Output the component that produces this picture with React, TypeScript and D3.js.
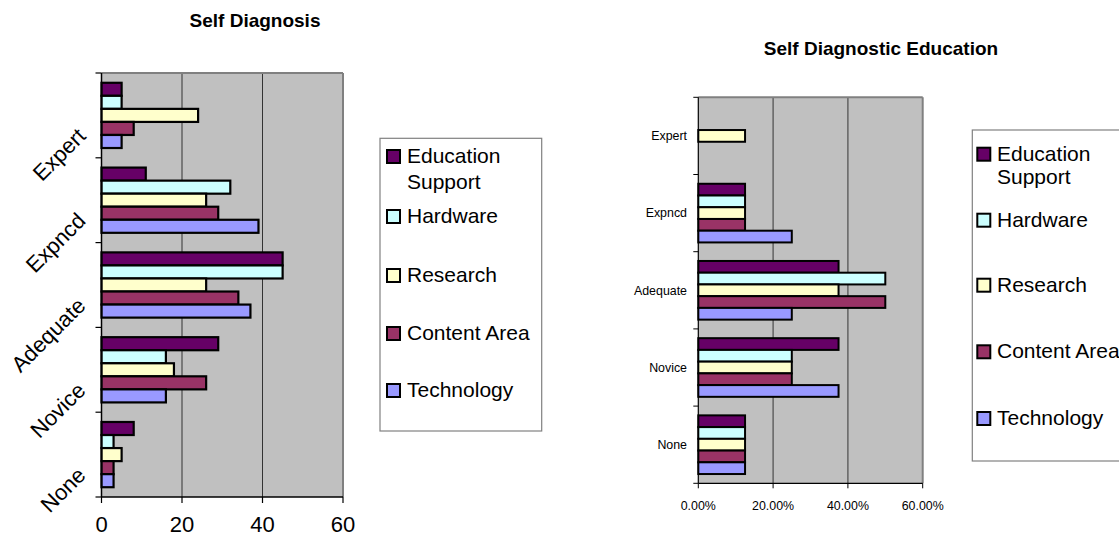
import React from "react";
import * as d3 from "d3";

const categories = ["Expert", "Expncd", "Adequate", "Novice", "None"];
const seriesNames = ["Education Support", "Hardware", "Research", "Content Area", "Technology"];
const seriesColors = ["#660066", "#CCFFFF", "#FFFFCC", "#993366", "#9999FF"];

// Left chart: Self Diagnosis (counts), ordered as categories
const diagEducationSupport = [5, 11, 45, 29, 8];
const diagHardware = [5, 32, 45, 16, 3];
const diagResearch = [24, 26, 26, 18, 5];
const diagContentArea = [8, 29, 34, 26, 3];
const diagTechnology = [5, 39, 37, 16, 3];
const diagTicks = [0, 20, 40, 60];

// Right chart: Self Diagnostic Education (shares)
const eduEducationSupport = [0, 0.125, 0.375, 0.375, 0.125];
const eduHardware = [0, 0.125, 0.5, 0.25, 0.125];
const eduResearch = [0.125, 0.125, 0.375, 0.25, 0.125];
const eduContentArea = [0, 0.125, 0.5, 0.25, 0.125];
const eduTechnology = [0, 0.25, 0.25, 0.375, 0.125];
const eduTicks = [0, 0.2, 0.4, 0.6];

const FONT = "'Liberation Sans', Arial, Helvetica, sans-serif";

const diagSeries = [diagEducationSupport, diagHardware, diagResearch, diagContentArea, diagTechnology];
const eduSeries = [eduEducationSupport, eduHardware, eduResearch, eduContentArea, eduTechnology];

function LeftChart() {
  const x0 = 101.5, x1 = 343, y0 = 73, y1 = 497;
  const x = d3.scaleLinear().domain([0, 60]).range([x0, x1]);
  const y = d3.scaleBand().domain(categories).range([y0, y1]).padding(0);
  const ys = d3.scaleBand().domain(seriesNames).range([0, y.bandwidth()]).paddingInner(0).paddingOuter(0.75);
  const bounds = categories.map((c) => y(c) as number).concat([y1]);
  return (
    <g>
      <text x={255} y={27} textAnchor="middle" fontFamily={FONT} fontWeight="bold" fontSize={19}>Self Diagnosis</text>
      <rect x={x0} y={y0} width={x1 - x0} height={y1 - y0} fill="#C0C0C0" stroke="none" />
      {diagTicks.slice(1, -1).map((t) => (
        <line key={t} x1={x(t)} x2={x(t)} y1={y0} y2={y1} stroke="#333" strokeWidth={1} />
      ))}
      <line x1={x0} x2={x1} y1={y0} y2={y0} stroke="#808080" strokeWidth={2} />
      <line x1={x1} x2={x1} y1={y0} y2={y1} stroke="#808080" strokeWidth={2} />
      {diagSeries.map((vals, si) =>
        vals.map((v, ci) =>
          v > 0 ? (
            <rect
              key={`${si}-${ci}`}
              x={x(0)}
              y={(y(categories[ci]) as number) + (ys(seriesNames[si]) as number)}
              width={x(v) - x(0)}
              height={ys.bandwidth()}
              fill={seriesColors[si]}
              stroke="#000"
              strokeWidth={2.2}
            />
          ) : null
        )
      )}
      <line x1={x0} x2={x0} y1={y0} y2={y1} stroke="#000" strokeWidth={1.5} />
      <line x1={x0} x2={x1} y1={y1} y2={y1} stroke="#000" strokeWidth={1.5} />
      {bounds.map((b, i) => (
        <line key={i} x1={x0 - 6} x2={x0} y1={b} y2={b} stroke="#000" strokeWidth={1.2} />
      ))}
      {diagTicks.map((t) => (
        <g key={t}>
          <line x1={x(t)} x2={x(t)} y1={y1} y2={y1 + 6} stroke="#000" strokeWidth={1.2} />
          <text x={x(t)} y={532} textAnchor="middle" fontFamily={FONT} fontSize={22}>{t}</text>
        </g>
      ))}
      {categories.map((c) => {
        const cy = (y(c) as number) + y.bandwidth() / 2 + 22;
        return (
          <text key={c} transform={`translate(87,${cy}) rotate(-45)`} textAnchor="end" fontFamily={FONT} fontSize={22}>{c}</text>
        );
      })}
    </g>
  );
}

function Legend({ x, y, w, h, sq, lineGap, baselines }: any) {
  return (
    <g>
      <rect x={x} y={y} width={w} height={h} fill="#fff" stroke="#808080" strokeWidth={1.2} />
      {seriesNames.map((s, i) => {
        const b = baselines[i];
        const lines = s === "Education Support" ? ["Education", "Support"] : [s];
        return (
          <g key={s}>
            <rect x={x + sq.dx} y={b - 13} width={13} height={13} fill={seriesColors[i]} stroke="#000" strokeWidth={2} />
            {lines.map((ln, li) => (
              <text key={li} x={x + sq.tx} y={b + li * lineGap} fontFamily={FONT} fontSize={21}>{ln}</text>
            ))}
          </g>
        );
      })}
    </g>
  );
}

function RightChart() {
  const x0 = 698.3, x1 = 922.7, y0 = 97.3, y1 = 483.3;
  const x = d3.scaleLinear().domain([0, 0.6]).range([x0, x1]);
  const y = d3.scaleBand().domain(categories).range([y0, y1]).padding(0);
  const ys = d3.scaleBand().domain(seriesNames).range([0, y.bandwidth()]).paddingInner(0).paddingOuter(0.79);
  const bounds = categories.map((c) => y(c) as number).concat([y1]);
  const fmt = d3.format(".2%");
  return (
    <g>
      <text x={881} y={55} textAnchor="middle" fontFamily={FONT} fontWeight="bold" fontSize={19}>Self Diagnostic Education</text>
      <rect x={x0} y={y0} width={x1 - x0} height={y1 - y0} fill="#C0C0C0" stroke="none" />
      {eduTicks.slice(1, -1).map((t) => (
        <line key={t} x1={x(t)} x2={x(t)} y1={y0} y2={y1} stroke="#555" strokeWidth={1.3} />
      ))}
      <line x1={x0} x2={x1} y1={y0} y2={y0} stroke="#808080" strokeWidth={2} />
      <line x1={x1} x2={x1} y1={y0} y2={y1} stroke="#808080" strokeWidth={2} />
      {eduSeries.map((vals, si) =>
        vals.map((v, ci) =>
          v > 0 ? (
            <rect
              key={`${si}-${ci}`}
              x={x(0)}
              y={(y(categories[ci]) as number) + (ys(seriesNames[si]) as number)}
              width={x(v) - x(0)}
              height={ys.bandwidth()}
              fill={seriesColors[si]}
              stroke="#000"
              strokeWidth={2}
            />
          ) : null
        )
      )}
      <line x1={x0} x2={x0} y1={y0} y2={y1} stroke="#000" strokeWidth={1.2} />
      <line x1={x0} x2={x1} y1={y1} y2={y1} stroke="#000" strokeWidth={1.2} />
      {bounds.map((b, i) => (
        <line key={i} x1={x0 - 5} x2={x0} y1={b} y2={b} stroke="#000" strokeWidth={1} />
      ))}
      {eduTicks.map((t) => (
        <g key={t}>
          <line x1={x(t)} x2={x(t)} y1={y1} y2={y1 + 5} stroke="#000" strokeWidth={1} />
          <text x={x(t)} y={510} textAnchor="middle" fontFamily={FONT} fontSize={12.4}>{fmt(t)}</text>
        </g>
      ))}
      {categories.map((c) => (
        <text key={c} x={687} y={(y(c) as number) + y.bandwidth() / 2} dy="0.35em" textAnchor="end" fontFamily={FONT} fontSize={12.4}>{c}</text>
      ))}
    </g>
  );
}

export default function App() {
  return (
    <div style={{ position: "absolute", left: 0, top: 0 }}>
      <svg width={1119} height={538} style={{ display: "block", background: "#fff" }}>
        <LeftChart />
        <Legend x={380} y={138.3} w={161.7} h={292.7} sq={{ dx: 7, tx: 27 }} lineGap={26} baselines={[163, 223, 282, 340, 397]} />
        <RightChart />
        <Legend x={972.3} y={130} w={160} h={331} sq={{ dx: 5, tx: 24.7 }} lineGap={23.3} baselines={[160.7, 226.7, 291.7, 358.3, 425]} />
      </svg>
    </div>
  );
}
